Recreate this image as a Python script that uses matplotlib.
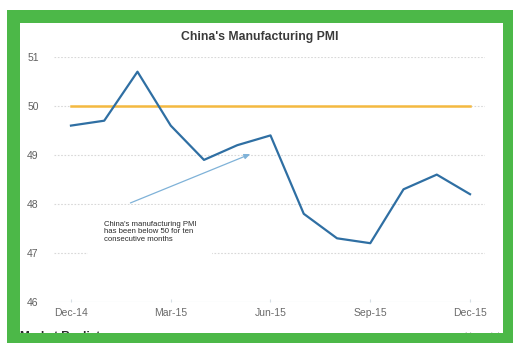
import matplotlib
matplotlib.use("Agg")
import matplotlib.pyplot as plt
from matplotlib.patches import Rectangle

months = ["Dec-14", "Jan-15", "Feb-15", "Mar-15", "Apr-15", "May-15", "Jun-15",
          "Jul-15", "Aug-15", "Sep-15", "Oct-15", "Nov-15", "Dec-15"]
pmi = [49.6, 49.7, 50.7, 49.6, 48.9, 49.2, 49.4, 47.8, 47.3, 47.2, 48.3, 48.6, 48.2]
threshold = [50.0] * len(months)
tick_labels = ["Dec-14", "Mar-15", "Jun-15", "Sep-15", "Dec-15"]
y_ticks = [46, 47, 48, 49, 50, 51]

plt.rcParams["font.family"] = ["Liberation Sans", "DejaVu Sans"]

W, H = 513, 343
fig = plt.figure(figsize=(W / 100, H / 100), dpi=100)
fig.patch.set_facecolor("white")

ax = fig.add_axes([54 / W, 1 - 302 / H, 431 / W, 245 / H])
ax.set_facecolor("white")
x = list(range(len(months)))

for yv in y_ticks[1:]:
    ax.axhline(yv, color="#d8d8d8", lw=0.8, ls=(0, (1.5, 1.5)), zorder=1)
ax.axhline(46, color="#d5dde3", lw=0.8, zorder=1)

ax.plot(x, threshold, color="#f4b940", lw=1.8, zorder=3)
ax.plot(x, pmi, color="#2f6fa3", lw=1.6, zorder=4)

ax.set_xlim(-0.51, 12.45)
ax.set_ylim(46, 51)
ax.set_yticks(y_ticks)
ax.set_yticklabels([str(v) for v in y_ticks])
pos = [months.index(m) for m in tick_labels]
ax.set_xticks(pos)
ax.set_xticklabels(tick_labels)
ax.tick_params(axis="y", length=0, labelsize=7.5, labelcolor="#606060", pad=11)
ax.tick_params(axis="x", length=2, direction="in", color="#d5dde3",
               labelsize=7.5, labelcolor="#6a6a6a", pad=4)
for s in ax.spines.values():
    s.set_visible(False)

ax.annotate("", xy=(5.47, 49.04), xytext=(1.71, 48.0),
            arrowprops=dict(arrowstyle="-|>,head_length=0.35,head_width=0.15",
                            color="#7fb2d8", lw=0.9), zorder=5)
ax.text(0.98, 47.66, "China's manufacturing PMI\nhas been below 50 for ten\nconsecutive months",
        fontsize=5.6, color="#2a2a2a", va="top", ha="left", linespacing=1.15,
        bbox=dict(boxstyle="square,pad=2.0", fc="white", ec="none"), zorder=2)

fig.text(260 / W, 1 - 37 / H, "China's Manufacturing PMI", ha="center", va="center",
         fontsize=8.8, fontweight="bold", color="#3a3a3a")

fig.text(20 / W, 1 - 340 / H, "Market Realist", ha="left", va="baseline",
         fontsize=8.5, fontweight="bold", color="#2a2a2a")
fig.text(505 / W, 1 - 339 / H, "Source: Markit, Caixin", ha="right", va="baseline",
         fontsize=6.5, color="#b0b0b0")

green = "#4cb848"
for (x0, y0, w, h) in [(7, 10, 506, 13), (7, 333, 506, 10), (7, 10, 13, 333), (503, 10, 10, 333)]:
    fig.patches.append(Rectangle((x0 / W, 1 - (y0 + h) / H), w / W, h / H,
                                 transform=fig.transFigure, fc=green, ec="none", zorder=10))

fig.savefig("out.png", dpi=100)
